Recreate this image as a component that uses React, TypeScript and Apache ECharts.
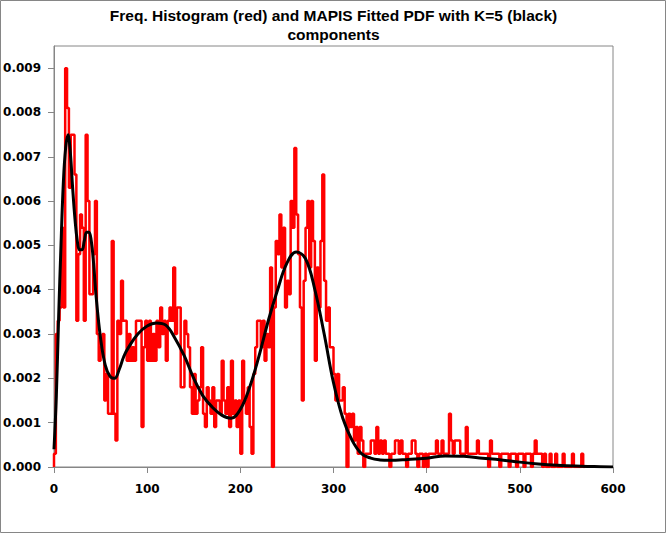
import React, { useEffect, useRef } from "react";
import * as echarts from "echarts";

const TITLE_LINES = ["Freq. Histogram (red) and MAPIS Fitted PDF with K=5 (black)", "components"];

// Histogram: bins of equal width starting at HIST_START (density values)
const HIST_START = 0;
const BIN_WIDTH = 2;
const histValues: number[] = [
  // 0 - 104
  0.0003, 0.003, 0.0033, 0.0036, 0.0054, 0.0036, 0.009, 0.0081, 0.0063, 0.0075,
  0.0075, 0.0066, 0.0033, 0.0048, 0.0057, 0.0054, 0.0033, 0.0075, 0.006, 0.0039,
  0.0039, 0.0048, 0.006, 0.003, 0.0024, 0.0027, 0.003, 0.0015, 0.0021, 0.0012,
  0.0012, 0.0051, 0.0012, 0.0006, 0.0033, 0.003, 0.0042, 0.0033, 0.0033, 0.0024,
  0.003, 0.0024, 0.0027, 0.0024, 0.0033, 0.0033, 0.0033, 0.0009, 0.0027, 0.0033,
  0.0024, 0.0033, 0.0024,
  // 106 - 218
  0.003, 0.0024, 0.0033, 0.0027, 0.0036,
  0.003, 0.0033, 0.0024, 0.0033, 0.0036,
  0.0033, 0.0045, 0.003, 0.0036, 0.0036,
  0.0018, 0.0018, 0.0033, 0.003, 0.0027,
  0.0018, 0.0012, 0.0021, 0.0012, 0.0015,
  0.0018, 0.0027, 0.0012, 0.0009, 0.0018,
  0.0015, 0.0012, 0.0018, 0.0009, 0.0015,
  0.0015, 0.0012, 0.0024, 0.0015, 0.0012,
  0.0018, 0.0009, 0.0024, 0.0012, 0.0015,
  0.0009, 0.0015, 0.0003, 0.0024, 0.0015,
  0.0012, 0.0018, 0.0009, 0.0003, 0.0021,
  0.0027, 0.0033,
  // 220 - 318
  0.0033, 0.0027, 0.0033, 0.0024, 0.003,
  0.0027, 0.0045, 0, 0.0036, 0.0051,
  0.0048, 0.0057, 0.0045, 0.0054, 0.0036,
  0.0042, 0.0039, 0.006, 0.0054, 0.0072,
  0.0057, 0.0048, 0.0036, 0.0015, 0.0042,
  0.0054, 0.006, 0.0045, 0.006, 0.0051,
  0.0024, 0.0045, 0.0036, 0.0051, 0.0066,
  0.0042, 0.0033, 0.0036, 0.0027, 0.0027,
  0.0021, 0.0015, 0.0021, 0.0015, 0.0015,
  0.0018, 0.0012, 0, 0.0012, 0.0009,
  // 320 - 568
  0.0012, 0.0006, 0.0009, 0.0003, 0.0009, 0.0006, 0, 0.0003, 0.0003, 0.0003,
  0.0006, 0.0006, 0.0003, 0.0009, 0.0003, 0.0006, 0.0003, 0.0006, 0.0003, 0.0003,
  0, 0.0003, 0.0003, 0.0006, 0.0006, 0.0003, 0.0006, 0.0003, 0.0003, 0,
  0.0003, 0.0003, 0.0006, 0.0006, 0.0003, 0, 0.0003, 0.0003, 0, 0.0003,
  0, 0.0003, 0.0003, 0.0003, 0.0003, 0.0006, 0.0003, 0.0003, 0.0006, 0.0003,
  0.0003, 0.0003, 0.0012, 0.0006, 0.0003, 0.0006, 0.0006, 0.0006, 0.0003, 0.0003,
  0.0003, 0.0009, 0.0003, 0.0003, 0.0003, 0.0003, 0.0003, 0.0006, 0.0003, 0.0003,
  0.0003, 0.0003, 0.0003, 0, 0.0006, 0.0003, 0.0003, 0.0003, 0.0003, 0,
  0.0003, 0.0003, 0.0003, 0.0003, 0, 0.0003, 0.0003, 0.0003, 0, 0.0003,
  0.0003, 0.0003, 0, 0.0003, 0.0003, 0.0003, 0, 0.0003, 0.0006, 0.0003,
  0.0003, 0.0003, 0, 0.0003, 0, 0, 0.0003, 0, 0, 0.0003,
  0, 0, 0, 0.0003, 0, 0, 0, 0, 0.0003, 0,
  0, 0, 0, 0.0003, 0,
];

const pdfX: number[] = [
  0, 2.5, 5, 7.5, 10, 12.5, 15, 17.5, 20, 22.5, 25, 27.5, 30, 32.5, 35, 37.5, 40, 42.5, 45,
  50, 55, 60, 65, 70, 75, 80, 90, 100, 110, 120, 130, 140, 150, 160, 170, 180, 190, 200,
  210, 220, 230, 240, 250, 260, 270, 280, 290, 300, 310, 320, 330, 340, 350, 360, 380,
  400, 420, 440, 460, 480, 500, 520, 540, 560, 580, 600,
];
const pdfY: number[] = [
  0.0004, 0.0016, 0.0034, 0.005, 0.0064, 0.0072, 0.0075, 0.0071, 0.0063, 0.0056, 0.0051,
  0.0049, 0.0049, 0.0051, 0.0053, 0.0053, 0.0051, 0.0046, 0.0039,
  0.0029, 0.0023, 0.00205, 0.002, 0.0022, 0.0025, 0.0027, 0.003, 0.00318, 0.00325, 0.0032,
  0.0029, 0.0025, 0.002, 0.0016, 0.00135, 0.00117, 0.0011, 0.0013,
  0.0018, 0.0025, 0.0033, 0.004, 0.0046, 0.00485, 0.0047, 0.004, 0.003, 0.0019, 0.0011,
  0.0006, 0.0003, 0.0002, 0.00016, 0.00015, 0.00017,
  0.0002, 0.00025, 0.00024, 0.0002, 0.00016, 0.00011, 0.00007, 0.00004, 0.00002, 0.00001, 0,
];

const Y_TICKS = [0, 0.001, 0.002, 0.003, 0.004, 0.005, 0.006, 0.007, 0.008, 0.009];
const X_MIN = 0;
const X_MAX = 600;
const X_STEP = 100;
const Y_MAX = 0.0095;

export default function App() {
  const ref = useRef<HTMLDivElement>(null);
  useEffect(() => {
    if (!ref.current) return;
    const chart = echarts.init(ref.current, null, { renderer: "svg" });
    const histData: [number, number][] = [[HIST_START, 0]];
    histValues.forEach((v, i) => histData.push([HIST_START + i * BIN_WIDTH, v]));
    histData.push([HIST_START + histValues.length * BIN_WIDTH, 0]);
    const pdfData = pdfX.map((x, i) => [x, pdfY[i]]);
    const axisGrey = "#868686";
    const labelFont = { fontFamily: "DejaVu Sans", fontWeight: "bold" as const, fontSize: 12, color: "#000" };
    chart.setOption({
      animation: false,
      backgroundColor: "#fff",
      title: {
        text: TITLE_LINES.join("\n"),
        left: "center",
        top: 1,
        textStyle: {
          fontFamily: "Liberation Sans",
          fontWeight: "bold",
          fontSize: 15.5,
          lineHeight: 19,
          color: "#000",
        },
      },
      graphic: [
        {
          type: "rect",
          shape: { x: 0.5, y: 0.5, width: 665, height: 532 },
          style: { fill: "none", stroke: axisGrey, lineWidth: 1 },
          silent: true,
        },
      ],
      grid: {
        left: 54,
        right: 54,
        top: 46,
        bottom: 67,
        outerBoundsMode: "none",
        containLabel: false,
        show: true,
        borderColor: axisGrey,
        borderWidth: 1,
        backgroundColor: "#fff",
      },
      xAxis: {
        type: "value",
        min: X_MIN,
        max: X_MAX,
        interval: X_STEP,
        splitLine: { show: false },
        axisLine: { show: true, onZero: false, lineStyle: { color: axisGrey, width: 1 } },
        axisTick: { show: true, length: 6, lineStyle: { color: axisGrey } },
        axisLabel: { ...labelFont, margin: 16 },
      },
      yAxis: {
        type: "value",
        min: 0,
        max: Y_MAX,
        splitLine: { show: false },
        axisLine: { show: true, lineStyle: { color: axisGrey, width: 1 } },
        axisTick: { show: true, length: 6, lineStyle: { color: axisGrey }, customValues: Y_TICKS },
        axisLabel: {
          ...labelFont,
          margin: 13,
          customValues: Y_TICKS,
          formatter: (v: number) => v.toFixed(3),
        },
      },
      series: [
        {
          type: "line",
          name: "Histogram",
          data: histData,
          step: "end",
          symbol: "none",
          lineStyle: { color: "#ff0000", width: 2.5 },
          z: 2,
        },
        {
          type: "line",
          name: "PDF",
          data: pdfData,
          smooth: 0.4,
          symbol: "none",
          lineStyle: { color: "#000", width: 3 },
          z: 3,
        },
      ],
    });
    return () => chart.dispose();
  }, []);
  return (
    <div
      ref={ref}
      style={{ position: "fixed", left: 0, top: 0, width: 667, height: 534, background: "#fff" }}
    />
  );
}
